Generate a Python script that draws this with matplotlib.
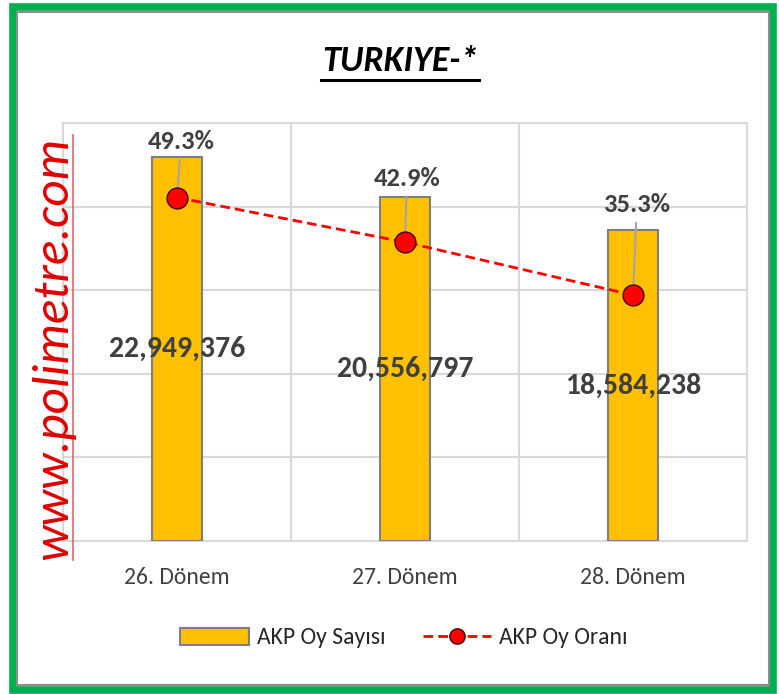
import matplotlib.pyplot as plt
from matplotlib import font_manager
from matplotlib.lines import Line2D
from matplotlib.patches import Rectangle, Patch

names = set(f.name for f in font_manager.fontManager.ttflist)
FONT = 'DejaVu Sans'
for cand in ['Carlito', 'Liberation Sans Narrow', 'DejaVu Sans Condensed']:
    if cand in names:
        FONT = cand
        break

donemler = ['26. Dönem', '27. Dönem', '28. Dönem']
oy_sayisi = [22949376, 20556797, 18584238]
oy_orani = [49.3, 42.9, 35.3]
seri_adlari = ['AKP Oy Sayısı', 'AKP Oy Oranı']
baslik = 'TURKIYE-*'
filigran = 'www.polimetre.com'

W, H = 779, 694
fig = plt.figure(figsize=(W/100, H/100), dpi=100)
renderer = fig.canvas.get_renderer()

def fx(px): return px / W
def fy(py): return 1 - py / H

def fit(t, target, vertical=False):
    # scale font so the text covers target pixels
    bb = t.get_window_extent(renderer)
    cur = bb.height if vertical else bb.width
    t.set_fontsize(t.get_fontsize() * target / cur)

# borders
fig.patches.append(Rectangle((fx(13), fy(690)), fx(760), 683/H, transform=fig.transFigure,
                             fill=False, ec='#00b050', lw=5.5))
fig.patches.append(Rectangle((fx(17), fy(685)), fx(752), 673/H, transform=fig.transFigure,
                             fill=False, ec='#8c8c8c', lw=1.5))

ax = fig.add_axes([fx(63), fy(541), fx(747-63), (541-123)/H])
x = list(range(len(donemler)))
ax.bar(x, oy_sayisi, width=0.22, color='#ffc000', edgecolor='#7f7f7f', linewidth=1.5, zorder=3)
ax.set_xlim(-0.5, 2.5)
ax.set_ylim(0, 25000000)
ax.set_yticks(range(0, 25000001, 5000000))
ax.set_xticks(x)
ax.set_xticklabels(donemler, fontsize=17, color='#404040', family=FONT)
ax.set_xticks([0.5, 1.5], minor=True)
ax.tick_params(axis='y', length=0, labelleft=False)
ax.tick_params(axis='x', which='both', length=0, pad=19)
ax.grid(True, which='major', axis='y', color='#d9d9d9', lw=1.5, zorder=0)
ax.grid(True, which='minor', axis='x', color='#d9d9d9', lw=1.5, zorder=0)
for s in ax.spines.values():
    s.set_color('#d9d9d9')
    s.set_linewidth(1.5)

for i, v in enumerate(oy_sayisi):
    t = ax.text(i, v / 2, f'{v:,}', ha='center', va='center', fontsize=20, fontweight='bold',
                color='#404040', family=FONT, zorder=5)
    fit(t, 136)

ax2 = ax.twinx()
ax2.set_ylim(0, 60)
ax2.set_yticks([])
for s in ax2.spines.values():
    s.set_visible(False)
ax2.plot(x, oy_orani, color='#ff0000', ls=(0, (3.5, 1.8)), lw=2, marker='o', markersize=15,
         markerfacecolor='#ff0000', markeredgecolor='#400000', markeredgewidth=1, zorder=4)
# label offsets from the point, pixels
offs = [(4, 56), (2, 64), (4, 91)]
for i, v in enumerate(oy_orani):
    t = ax2.annotate(f'{v}%', (i, v), xytext=offs[i], textcoords='offset pixels',
                     ha='center', va='center', fontsize=15, fontweight='bold',
                     color='#404040', family=FONT,
                     arrowprops=dict(arrowstyle='-', color='#a6a6a6', lw=1.5,
                                     shrinkA=3, shrinkB=0))
    fit(t, 67)

t = fig.text(0.5 * (fx(322) + fx(478)), fy(61), baslik, ha='center', va='center', fontsize=22,
             fontweight='bold', style='italic', family=FONT, color='black')
fit(t, 156)
fig.add_artist(Line2D([fx(321), fx(479)], [fy(80), fy(80)], color='black', lw=2.2))

t = fig.text(fx(53), fy(348), filigran, rotation=90, ha='center', va='center', fontsize=30,
             style='italic', color='#e00000', family=FONT)
fit(t, 423, vertical=True)
fig.add_artist(Line2D([fx(73), fx(73)], [fy(135), fy(560)], color='#e06666', lw=1.2))

handles = [Patch(facecolor='#ffc000', edgecolor='#7f7f7f', linewidth=1.5),
           Line2D([], [], color='#ff0000', ls=(0, (3.5, 1.8)), lw=2, marker='o', markersize=11,
                  markerfacecolor='#ff0000', markeredgecolor='#400000')]
fig.legend(handles, seri_adlari, loc='center', bbox_to_anchor=(fx(404), fy(638)), ncol=2,
           frameon=False, prop={'family': FONT, 'size': 17}, handlelength=2.9, handleheight=0.7,
           columnspacing=1.6, handletextpad=0.34, labelcolor='#262626')

fig.savefig('out.png', dpi=100)
